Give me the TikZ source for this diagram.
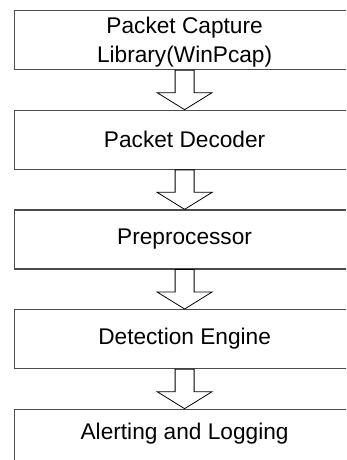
\documentclass[tikz,border=0pt]{standalone}
\usepackage{fontspec}
\setmainfont{Liberation Sans}
\usetikzlibrary{positioning,calc}

% hollow block arrow from one stage to the next
\newcommand{\flowarrow}[2]{%
  \draw[hollow] ($(#1.south)+(-9.5,0)$) -- ($(#1.south)+(9.5,0)$)
    -- ($(#2.north)+(9.5,17)$) -- ($(#2.north)+(27.5,17)$) -- (#2.north)
    -- ($(#2.north)+(-27.5,17)$) -- ($(#2.north)+(-9.5,17)$) -- cycle;}

\begin{document}
\begin{tikzpicture}[x=0.75pt, y=0.75pt,
  stage/.style={draw=black!70, line width=0.9pt, minimum width=255pt, minimum height=44.25pt, inner sep=0pt, align=center, font=\fontsize{17}{22}\selectfont},
  hollow/.style={draw=black, line width=0.6pt, fill=white, line join=miter},
  node distance=29.6pt]
\useasboundingbox (0,0) rectangle (346,-460);
\clip (0,0) rectangle (346,-460);

% Stages
\node[stage, anchor=north west, text depth=0pt] (capture) at (14,-10) {Packet Capture\\Library(WinPcap)};
\node[stage, below=of capture] (decoder) {Packet Decoder};
\node[stage, below=of decoder] (preproc) {Preprocessor};
\node[stage, below=of preproc] (detection) {Detection Engine};
\node[stage, below=of detection, text height=12.2pt, text depth=11.5pt] (alerting) {Alerting and Logging};

% Arrows
\flowarrow{capture}{decoder}
\flowarrow{decoder}{preproc}
\flowarrow{preproc}{detection}
\flowarrow{detection}{alerting}
\end{tikzpicture}
\end{document}
